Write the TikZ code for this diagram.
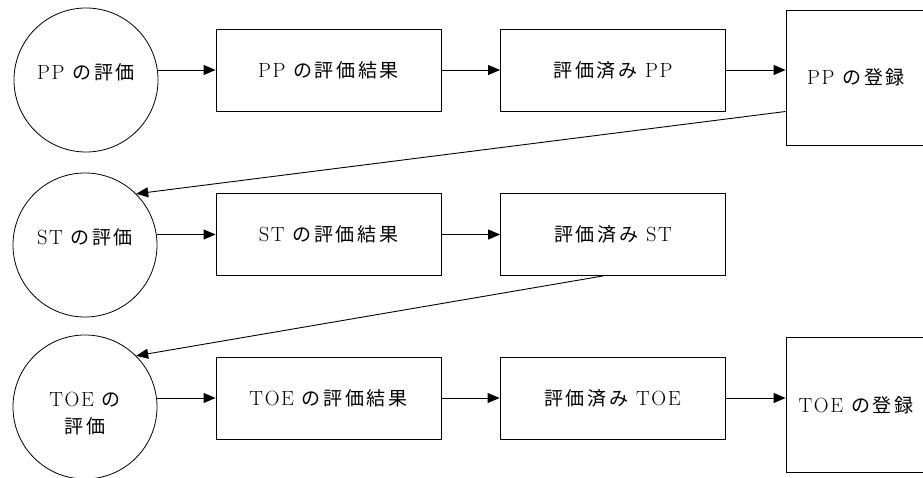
\documentclass[tikz,border=0pt]{standalone}
\usepackage{fontspec}
\setmainfont{Latin Modern Roman}[LetterSpace=8, Scale=1.08]
\newfontfamily\jp{Noto Sans CJK JP}[LetterSpace=14]
\usetikzlibrary{arrows.meta}

\tikzset{
  proc/.style={draw, circle, minimum size=144pt, inner sep=0pt, line width=0.8pt, text depth=17pt},
  data/.style={draw, minimum width=225pt, minimum height=82pt, line width=0.9pt},
  reg/.style={draw, minimum width=140pt, minimum height=135pt, line width=0.9pt},
  flow/.style={line width=0.9pt, -{Triangle[length=12pt,width=10pt]}}
}

\begin{document}
\begin{tikzpicture}[x=1pt, y=1pt, font=\fontsize{19}{27.5}\selectfont]
  \useasboundingbox (0,0) rectangle (923,477);

  % PP
  \node[proc] (pp) at (86,397) {PP {\jp の評価}};
  \node[data] (ppres) at (328.5,407) {PP {\jp の評価結果}};
  \node[data] (ppdone) at (613,407) {{\jp 評価済み} PP};
  \node[reg] (ppreg) at (856,399.5) {PP {\jp の登録}};

  % ST
  \node[proc] (st) at (85,232) {ST {\jp の評価}};
  \node[data] (stres) at (328.5,242.5) {ST {\jp の評価結果}};
  \node[data] (stdone) at (613,242.5) {{\jp 評価済み} ST};

  % TOE
  \node[proc, align=center, text height=53pt, text depth=0pt] (toe) at (85,70) {TOE {\jp の}\\{\jp 評価}};
  \node[data] (toeres) at (328.5,79) {TOE {\jp の評価結果}};
  \node[data] (toedone) at (612.5,79) {{\jp 評価済み} TOE};
  \node[reg] (toereg) at (856,72) {TOE {\jp の登録}};

  \draw[flow] (pp.east |- ppres.west) -- (ppres.west);
  \draw[flow] (ppres) -- (ppdone);
  \draw[flow] (ppdone.east) -- (ppdone.east -| ppreg.west);
  \draw[flow] ([yshift=-34pt]ppreg.west) -- (st.45);

  \draw[flow] (st.east |- stres.west) -- (stres.west);
  \draw[flow] (stres) -- (stdone);
  \draw[flow] ([xshift=-10pt]stdone.south) -- (toe.45);

  \draw[flow] (toe.east |- toeres.west) -- (toeres.west);
  \draw[flow] (toeres) -- (toedone);
  \draw[flow] (toedone.east) -- (toedone.east -| toereg.west);
\end{tikzpicture}
\end{document}
